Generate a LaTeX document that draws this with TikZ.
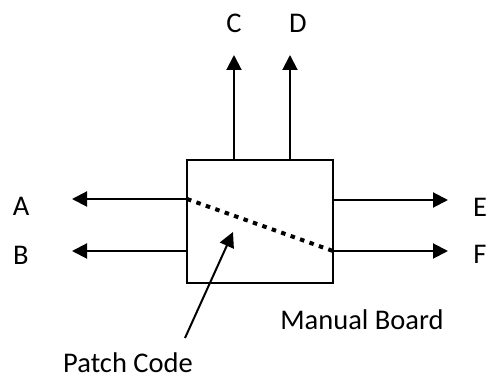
\documentclass[tikz,border=0pt]{standalone}
\usepackage{fontspec}
\setmainfont{Carlito}
\usetikzlibrary{arrows.meta, positioning}
\tikzset{
  board/.style={draw, line width=2pt, minimum width=146pt, minimum height=123pt,
                inner sep=0pt},
  lbl/.style={font=\fontsize{28.5}{32}\selectfont, inner sep=0pt},
  arr/.style={-{Triangle[length=15pt,width=15pt]}, line width=2pt},
  patchline/.style={line width=4pt, dash pattern=on 4.5pt off 5.5pt},
}

\begin{document}
\begin{tikzpicture}[x=1pt, y=1pt]
    \useasboundingbox (0,0) rectangle (487,380);

    \node[board] (mb) at (260,158.5) {};

    \coordinate (pa) at (187,181);  \coordinate (ta) at (72,181);
    \coordinate (pb) at (187,129);  \coordinate (tb) at (72,129);
    \coordinate (pc) at (234,220);  \coordinate (tc) at (234,325);
    \coordinate (pd) at (290,220);  \coordinate (td) at (290,325);
    \coordinate (pe) at (333,180);  \coordinate (te) at (448,180);
    \coordinate (pf) at (333,129);  \coordinate (tf) at (448,129);

    \node[lbl] (la) at (21,174) {A};
    \node[lbl] (lb) at (21,125) {B};
    \node[lbl] (lc) at (234,357) {C};
    \node[lbl] (ld) at (298,357) {D};
    \node[lbl] (le) at (480,173) {E};
    \node[lbl] (lf) at (480,126) {F};
    \node[lbl] (pcode) at (128,17) {Patch Code};
    \node[lbl] (mlabel) at (362,60) {Manual Board};

    \draw[arr] (pa) -- (ta);
    \draw[arr] (pb) -- (tb);
    \draw[arr] (pc) -- (tc);
    \draw[arr] (pd) -- (td);
    \draw[arr] (pe) -- (te);
    \draw[arr] (pf) -- (tf);

    % patch code line and pointer
    \draw[patchline] (pa) -- (pf);
    \coordinate (ps) at (185,42);
    \coordinate (ph) at (233,148);
    \draw[arr] (ps) -- (ph);
  \end{tikzpicture}
\end{document}
